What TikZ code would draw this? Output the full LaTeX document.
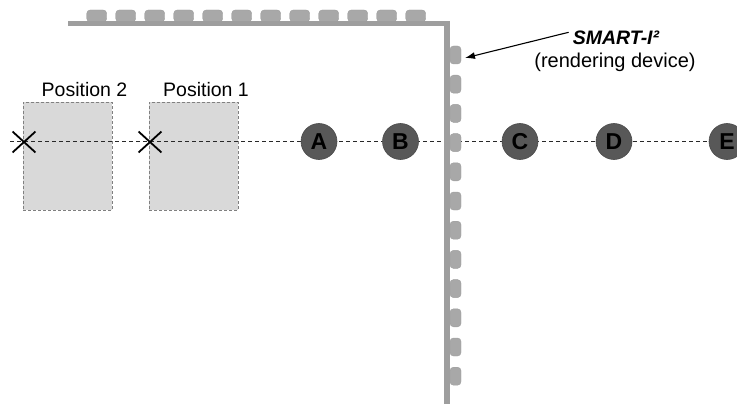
\documentclass[tikz,border=0pt]{standalone}
\usepackage{fontspec}
\setmainfont{Liberation Sans}
\usetikzlibrary{shapes.misc,arrows.meta}
\definecolor{bargray}{RGB}{158,158,158}
\definecolor{bumpgray}{RGB}{168,168,168}
\definecolor{boxgray}{RGB}{217,217,217}
\definecolor{ballgray}{RGB}{88,88,88}
\definecolor{linegray}{RGB}{40,40,40}
\begin{document}
\begin{tikzpicture}[x=1pt,y=-1pt,
  posbox/.style={draw=gray, densely dashed, line width=0.6pt, fill=boxgray,
    minimum width=89pt, minimum height=108pt, inner sep=0pt},
  poslabel/.style={anchor=base, inner sep=0pt, font=\fontsize{19.5}{19.5}\selectfont},
  ball/.style={circle, fill=ballgray, draw=ballgray!85!black, line width=0.6pt,
    minimum size=36pt, inner sep=0pt, font=\fontsize{23}{23}\selectfont\bfseries},
  xmark/.style={cross out, draw=black, line width=1.8pt, minimum width=21pt,
    minimum height=19pt, inner sep=0pt},
  topbump/.style={rectangle, rounded corners=3.5pt, fill=bumpgray, draw=bargray,
    line width=0.4pt, minimum width=20pt, minimum height=12pt, inner sep=0pt},
  sidebump/.style={rectangle, rounded corners=3.5pt, fill=bumpgray, draw=bargray,
    line width=0.4pt, minimum width=11pt, minimum height=18pt, inner sep=0pt},
  axis/.style={draw=linegray, line width=1.1pt, dash pattern=on 4pt off 3pt},
  devlabel/.style={anchor=base, inner sep=0pt, font=\fontsize{20}{20}\selectfont}
]
\useasboundingbox (0,0) rectangle (737,404);
\clip (0,0) rectangle (737,404);

% boxes
\node[posbox] (box2) at (67.5,156) {};
\node[posbox] (box1) at (193.5,156) {};
\node[poslabel] (lab2) at (84.5,96) {Position 2};
\node[poslabel] (lab1) at (206,96) {Position 1};

% axis
\coordinate (lstart) at (10,141.5);
\coordinate (lend) at (737,141.5);
\draw[axis] (lstart) -- (lend);

% balls
\node[ball] (A) at (319,141.5) {A};
\node[ball] (B) at (400.5,141.5) {B};
\node[ball] (C) at (520,141.5) {C};
\node[ball] (D) at (614,141.5) {D};
\node[ball] (E) at (727,141.5) {E};

% crosses
\node[xmark] (x2) at (24,142) {};
\node[xmark] (x1) at (150,142) {};

% rendering device
\foreach \i in {0,...,11}{
  \node[topbump] (t\i) at ({96.7+29*\i},16) {};
  \node[sidebump] (s\i) at (455.5,{55+29.2*\i}) {};
}
\fill[bargray] (68,21.5) rectangle (450,26.5);
\fill[bargray] (444,21.5) rectangle (450,404);

% label and arrow
\node[devlabel, font=\fontsize{19.5}{19.5}\selectfont\bfseries\itshape] (smart) at (616,45) {SMART-I²};
\node[devlabel] (rend) at (615,68) {(rendering device)};
\coordinate (devtip) at (465,58);
\draw[line width=1.1pt, -{Latex[length=10pt,width=7pt]}] (smart.west) ++(-4,-6) coordinate (atail) -- (devtip);
\end{tikzpicture}
\end{document}
